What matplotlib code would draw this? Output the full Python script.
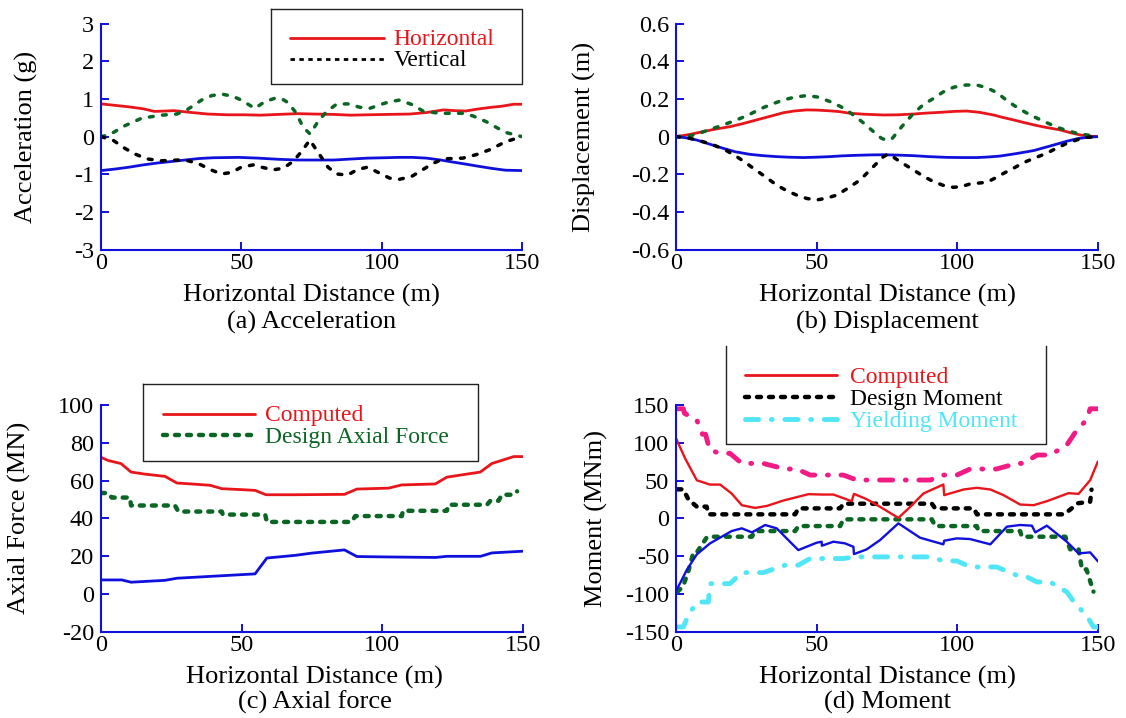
import matplotlib
matplotlib.use("Agg")
import matplotlib.pyplot as plt
from matplotlib.lines import Line2D

plt.rcParams['font.family'] = ['Liberation Serif', 'DejaVu Serif']
plt.rcParams['axes.unicode_minus'] = False

# Colours used in the original
RED = '#E8151B'
BLUE = '#1010DC'
GREEN = '#0B6623'
BLACK = '#000000'
PINK = '#F21A84'
CYAN = '#50E6F8'

W, H = 1126, 718  # figure size in pixels

# ---------------- (a) Acceleration ----------------
acc_h_x = [0, 5, 10, 15, 19, 23, 26, 31, 38, 45, 51, 57, 63, 70, 76, 83, 89, 95, 102, 110, 116, 122, 126, 130, 134, 138, 143, 147, 150]
acc_h_pos = [0.87, 0.83, 0.79, 0.74, 0.67, 0.68, 0.69, 0.65, 0.60, 0.58, 0.58, 0.57, 0.59, 0.61, 0.60, 0.59, 0.57, 0.58, 0.59, 0.60, 0.64, 0.71, 0.69, 0.68, 0.73, 0.77, 0.81, 0.86, 0.86]
acc_h_neg_x = [0, 5, 10, 15, 20, 25, 30, 35, 40, 49, 56, 63, 70, 77, 83, 90, 95, 101, 106, 111, 116, 121, 125, 130, 134, 139, 144, 150]
acc_h_neg = [-0.90, -0.86, -0.81, -0.75, -0.70, -0.66, -0.62, -0.58, -0.56, -0.55, -0.57, -0.60, -0.62, -0.62, -0.62, -0.59, -0.57, -0.56, -0.55, -0.55, -0.57, -0.62, -0.67, -0.73, -0.78, -0.84, -0.89, -0.90]
acc_v_pos_x = [0, 3, 8.5, 14.5, 21.6, 27, 31, 35.8, 39.5, 43, 47, 50, 54.8, 58.4, 62, 64.5, 66.7, 69.6, 72, 74.5, 77.3, 80.3, 83.9, 87.9, 92.2, 95.7, 99.9, 103, 106.4, 111.2, 114.7, 120.6, 128.9, 132.5, 137.2, 141, 144.3, 150]
acc_v_pos = [0.0, 0.05, 0.29, 0.49, 0.57, 0.60, 0.73, 0.97, 1.09, 1.13, 1.07, 0.97, 0.75, 0.93, 1.02, 1.00, 0.90, 0.62, 0.25, 0.07, 0.40, 0.66, 0.86, 0.87, 0.78, 0.75, 0.86, 0.93, 0.97, 0.84, 0.68, 0.62, 0.62, 0.55, 0.40, 0.24, 0.11, 0.0]
acc_v_neg_x = [0, 4.4, 8.5, 12.1, 16.3, 21.6, 27.5, 31, 34.6, 38.8, 42.9, 46.5, 50, 54.2, 57.2, 61.3, 64.9, 68.4, 71.4, 74.4, 77.9, 80.9, 83.9, 87.9, 91.4, 95, 99.3, 102.8, 106.4, 110.6, 114.1, 118.3, 121.9, 128.9, 133.6, 138.4, 144.3, 150]
acc_v_neg = [0.0, -0.10, -0.31, -0.46, -0.59, -0.64, -0.62, -0.64, -0.71, -0.87, -0.99, -0.95, -0.81, -0.75, -0.81, -0.88, -0.84, -0.66, -0.40, -0.09, -0.48, -0.81, -0.99, -1.02, -0.87, -0.81, -0.97, -1.10, -1.13, -1.06, -0.90, -0.71, -0.59, -0.57, -0.48, -0.35, -0.13, 0.0]
acc_ticks = [-3, -2, -1, 0, 1, 2, 3]
acc_ticklabels = ['-3', '-2', '-1', '0', '1', '2', '3']

# ---------------- (b) Displacement ----------------
dis_h_pos_x = [0, 5, 9.7, 14, 19.2, 24, 28.7, 33, 38.2, 42, 46.5, 50, 54.8, 58, 61.9, 67, 73.8, 79, 84.5, 89, 94, 99, 103.4, 108, 112.9, 116, 120, 124, 128.3, 132, 136.6, 140, 143.8, 147, 150]
dis_h_pos = [0, 0.012, 0.027, 0.040, 0.053, 0.070, 0.089, 0.106, 0.127, 0.136, 0.142, 0.141, 0.137, 0.133, 0.124, 0.119, 0.115, 0.116, 0.120, 0.125, 0.129, 0.134, 0.136, 0.129, 0.115, 0.103, 0.089, 0.074, 0.059, 0.048, 0.036, 0.022, 0.009, 0.003, 0]
dis_h_neg_x = [0, 3.5, 7.4, 12, 16.8, 21, 26.3, 31, 35.8, 40, 45.3, 50, 54.8, 59, 64.3, 69, 73.8, 79, 84.5, 90, 96.3, 102, 107, 111, 115.3, 121, 127.2, 133, 139.1, 143, 146.2, 150]
dis_h_neg = [0, -0.006, -0.018, -0.040, -0.062, -0.080, -0.094, -0.101, -0.106, -0.109, -0.111, -0.109, -0.106, -0.102, -0.099, -0.097, -0.096, -0.098, -0.101, -0.106, -0.110, -0.111, -0.111, -0.108, -0.103, -0.090, -0.074, -0.050, -0.024, -0.010, -0.004, 0]
dis_v_pos_x = [0, 5, 9, 13.3, 17.5, 21.6, 25.8, 29.9, 34, 38.2, 42.3, 46.5, 50.5, 54.8, 58.5, 61.9, 66.1, 70.2, 73, 75, 77, 80.3, 84.5, 88, 91.6, 95, 98.7, 103, 107, 110.5, 114.1, 117, 120, 123, 126, 129, 131.9, 135.5, 139.1, 142.6, 146.2, 150]
dis_v_pos = [0, 0.004, 0.022, 0.044, 0.066, 0.089, 0.115, 0.147, 0.172, 0.195, 0.210, 0.218, 0.210, 0.186, 0.160, 0.128, 0.080, 0.027, -0.008, -0.020, -0.008, 0.053, 0.124, 0.170, 0.203, 0.237, 0.262, 0.274, 0.274, 0.260, 0.234, 0.200, 0.168, 0.140, 0.115, 0.094, 0.074, 0.050, 0.032, 0.018, 0.009, 0]
dis_v_neg_x = [0, 5, 9, 13.3, 17.5, 21.6, 24.5, 27.5, 31.5, 35.8, 39.5, 42.9, 46.5, 50, 53.5, 57.2, 61, 65.5, 70.2, 73.8, 75.5, 77, 79.7, 84.5, 88, 91.6, 95, 98.7, 101.5, 104.6, 110.6, 113.5, 116.5, 120, 123.6, 127.8, 131.9, 135.5, 139.1, 142.6, 146.2, 150]
dis_v_neg = [0, -0.009, -0.024, -0.044, -0.070, -0.106, -0.135, -0.168, -0.210, -0.257, -0.288, -0.310, -0.328, -0.336, -0.327, -0.310, -0.275, -0.230, -0.159, -0.106, -0.092, -0.105, -0.133, -0.177, -0.210, -0.239, -0.258, -0.269, -0.265, -0.251, -0.242, -0.220, -0.195, -0.168, -0.138, -0.112, -0.088, -0.060, -0.035, -0.017, -0.004, 0]
dis_ticks = [-0.6, -0.4, -0.2, 0, 0.2, 0.4, 0.6]
dis_ticklabels = ['-0.6', '-0.4', '-0.2', '0', '0.2', '0.4', '0.6']

# ---------------- (c) Axial force ----------------
axf_max_x = [0, 2.6, 7.1, 10.7, 15.7, 22.8, 27, 32.3, 38.8, 43, 50, 54.8, 58.7, 69, 86.6, 91, 102.3, 107, 118.9, 123, 134.9, 139, 146.8, 150]
axf_max = [72.3, 70.6, 69.0, 64.5, 63.4, 62.2, 58.7, 58.2, 57.5, 55.7, 55.2, 54.8, 52.5, 52.5, 52.7, 55.5, 56.0, 57.7, 58.2, 61.8, 64.5, 69.0, 72.7, 72.7]
axf_min_x = [0, 7.4, 10.7, 22.8, 27, 54.8, 59, 69, 75, 86.6, 91, 100, 119, 123, 135, 139, 150]
axf_min = [7.4, 7.4, 6.2, 7.2, 8.3, 10.6, 19.0, 20.4, 21.6, 23.3, 19.8, 19.6, 19.3, 19.9, 19.9, 21.7, 22.6]
axf_design_x = [0, 2.6, 3.8, 10.3, 10.7, 26.3, 27.5, 43, 43.3, 58.4, 59, 89.2, 90.4, 107, 107.4, 123, 123.6, 137.3, 138.5, 141.4, 142.6, 146.8, 148]
axf_design = [53.4, 53.4, 51, 51, 46.8, 46.8, 43.6, 43.6, 42, 42, 38.1, 38.1, 41.2, 41.2, 44, 44, 47.2, 47.2, 49.3, 49.3, 52.5, 52.5, 54.3]
axf_ticks = [-20, 0, 20, 40, 60, 80, 100]
axf_ticklabels = ['-20', '0', '20', '40', '60', '80', '100']

# ---------------- (d) Moment ----------------
mom_max_x = [0, 3.2, 7.4, 12.1, 15.7, 19.8, 23.4, 28.1, 32.3, 38.2, 47.1, 51.8, 56, 62.5, 63.3, 67.8, 72.6, 79.1, 83.3, 88, 95.1, 95.4, 102.3, 107, 111.8, 116.5, 122.4, 127.2, 131.9, 139.6, 143.2, 147.3, 150]
mom_max = [106, 79.6, 50.4, 44.7, 44.7, 32.8, 17.4, 13.8, 16.4, 23.6, 32, 31.5, 31.5, 22.7, 32.4, 25.4, 15.2, 0.6, 15.2, 32.9, 44.8, 30.7, 38.2, 40.4, 38.2, 30.7, 18.3, 17.4, 22.7, 33.3, 32.4, 50.4, 74.7]
mom_min_x = [0, 3.8, 7.4, 12.1, 19.8, 23.4, 27, 31.7, 35.8, 43.5, 50, 51.8, 51.9, 56, 60.1, 63.1, 63.3, 67.8, 72.6, 79.1, 86.8, 95.1, 95.4, 99.9, 104.6, 111.8, 117.7, 122.4, 126.6, 127.8, 131.9, 139, 143.2, 147.3, 150]
mom_min = [-96.4, -68.5, -47.7, -33.1, -16.8, -13.2, -18.6, -8.8, -13.2, -42, -32.3, -30.9, -36.2, -30.9, -33.1, -37.6, -47.3, -41.1, -28.7, -6.6, -25.6, -34.4, -29.6, -26.5, -27.4, -34.4, -11, -8.8, -9.7, -18.6, -9.7, -30.9, -46.4, -45, -56.5]
mom_design_pos_x = [0.5, 2.6, 4.4, 7.4, 10.9, 11.5, 42.4, 43.5, 58.4, 59.5, 91.0, 92.2, 106.0, 107.0, 138.0, 140.0, 143.0, 147.3, 147.6, 147.8]
mom_design_pos = [38.4, 38.4, 25, 15.5, 15.5, 5.3, 5.3, 13.2, 13.2, 19.4, 19.4, 13.2, 13.2, 5.3, 5.3, 11, 20, 22, 30, 38]
mom_design_neg_x = [0.5, 2.5, 4.4, 6.2, 7.4, 10.9, 11.5, 27, 28.1, 42.4, 43.5, 58.4, 59.5, 91, 92.2, 107, 107.6, 122.4, 123, 138.5, 140.2, 143.2, 144.4, 146, 148.5]
mom_design_neg = [-97.3, -90, -70, -45, -45, -25.4, -24.3, -24.3, -16.8, -16.8, -10.2, -10.2, -1.3, -1.3, -10.2, -10.2, -16.8, -16.8, -24.3, -24.3, -41, -41, -67.5, -67.5, -97]
mom_yield_pos_x = [0.5, 2.6, 3.0, 7.4, 9.4, 10.5, 12, 15.7, 19.2, 23.4, 31, 38.8, 43, 47.7, 59.5, 64.3, 90.4, 95.1, 99.9, 104.6, 114, 121.2, 123.6, 128.4, 133.1, 139, 142.6, 146, 147.3, 150]
mom_yield_pos = [145, 145, 139, 130, 111.3, 111.3, 90.4, 86, 86, 72.7, 72.7, 65.3, 65.3, 57.3, 57.3, 50.7, 50.7, 57.3, 57.3, 65.3, 65.3, 72.7, 72.7, 83.8, 83.8, 97, 117, 130, 145, 145]
mom_yield_neg_x = [0.5, 2.6, 4.4, 7.4, 11.5, 12.1, 19.2, 23.4, 31, 38.8, 43.5, 47.7, 59.5, 63.7, 90.4, 95.1, 99.9, 104.6, 114, 121.2, 123.6, 128.4, 133.1, 139, 142, 146, 148.5, 150]
mom_yield_neg = [-143.7, -143.7, -128.4, -110.7, -110.7, -86.4, -86.4, -71.8, -71.8, -62, -62, -53.2, -53.2, -51, -51, -56.3, -56.3, -64.3, -64.3, -75.3, -75.3, -84.2, -84.2, -97.4, -112.9, -128.4, -143.7, -143.7]
mom_ticks = [-150, -100, -50, 0, 50, 100, 150]
mom_ticklabels = ['-150', '-100', '-50', '0', '50', '100', '150']

x_ticks = [0, 50, 100, 150]
x_ticklabels = ['0', '50', '100', '150']

# line styles
solid = dict(lw=2.0, solid_capstyle='round')
thin_dots = dict(lw=2.5, dashes=(1.1, 2.7), dash_capstyle='round')
fat_dots = dict(lw=3.2, dashes=(0.9, 1.8), dash_capstyle='round')
dash_dot = dict(lw=3.5, dashes=(2.7, 2.6, 0.2, 2.6), dash_capstyle='round')


def px(x, y):
    """pixel position -> figure fraction"""
    return x / W, 1 - y / H


def make_axes(fig, left, top, right, bottom):
    x0, y0 = px(left, bottom)
    ax = fig.add_axes([x0, y0, (right - left) / W, (bottom - top) / H])
    for s in ['top', 'right']:
        ax.spines[s].set_visible(False)
    for s in ['left', 'bottom']:
        ax.spines[s].set_color(BLUE)
        ax.spines[s].set_linewidth(1.5)
    ax.tick_params(direction='in', length=6, width=1.4, color=BLUE, labelsize=17.5)
    ax.tick_params(axis='x', pad=2.5)
    ax.tick_params(axis='y', pad=5)
    ax.set_xlim(0, 150)
    ax.set_xticks(x_ticks)
    ax.set_xticklabels(x_ticklabels)
    return ax


def fig_line(fig, xs, ys, **kw):
    pts = [px(x, y) for x, y in zip(xs, ys)]
    fig.add_artist(Line2D([p[0] for p in pts], [p[1] for p in pts],
                          transform=fig.transFigure, **kw))


def draw_legend(fig, box, rows, top_edge=True):
    left, top, right, bottom = box
    if top_edge:
        fig_line(fig, [left, right, right, left, left], [top, top, bottom, bottom, top], color='#222222', lw=1.0)
    else:
        fig_line(fig, [left, left, right, right], [top, bottom, bottom, top], color='#222222', lw=1.0)
    for y, x0, x1, xt, label, tcolor, color, style in rows:
        fig_line(fig, [x0, x1], [y, y], color=color, **style)
        tx, ty = px(xt, y + 7.8)
        fig.text(tx, ty, label, color=tcolor, fontsize=17, va='baseline', ha='left')


def captions(fig, cx, y_label, y_caption, caption):
    x, y = px(cx, y_label)
    fig.text(x, y, 'Horizontal Distance (m)', fontsize=19, ha='center', va='baseline')
    x, y = px(cx, y_caption)
    fig.text(x, y, caption, fontsize=19, ha='center', va='baseline')


fig = plt.figure(figsize=(W / 100, H / 100), dpi=100)

# (a)
ax = make_axes(fig, 101, 23.6, 522, 249.7)
ax.plot(acc_h_x, acc_h_pos, color=RED, **solid)
ax.plot(acc_h_neg_x, acc_h_neg, color=BLUE, **solid)
ax.plot(acc_v_pos_x, acc_v_pos, color=GREEN, **thin_dots)
ax.plot(acc_v_neg_x, acc_v_neg, color=BLACK, **thin_dots)
ax.set_ylim(-3, 3)
ax.set_yticks(acc_ticks)
ax.set_yticklabels(acc_ticklabels)
ax.set_ylabel('Acceleration (g)', fontsize=19)
ax.yaxis.set_label_coords(-0.15, 0.5)
draw_legend(fig, (270.6, 9.3, 521.5, 84), [
    (37.5, 290, 383.5, 393.5, 'Horizontal', RED, RED, solid),
    (58.5, 290, 383.5, 393.5, 'Vertical', BLACK, BLACK, dict(lw=2.0, dashes=(1.6, 1.6))),
])
captions(fig, 311.5, 301.7, 328.5, '(a) Acceleration')

# (b)
ax = make_axes(fig, 676, 23.6, 1097.7, 249.7)
ax.plot(dis_h_pos_x, dis_h_pos, color=RED, **solid)
ax.plot(dis_h_neg_x, dis_h_neg, color=BLUE, **solid)
ax.plot(dis_v_pos_x, dis_v_pos, color=GREEN, **thin_dots)
ax.plot(dis_v_neg_x, dis_v_neg, color=BLACK, **thin_dots)
ax.set_ylim(-0.6, 0.6)
ax.set_yticks(dis_ticks)
ax.set_yticklabels(dis_ticklabels)
ax.set_ylabel('Displacement (m)', fontsize=19)
ax.yaxis.set_label_coords(-0.19, 0.5)
captions(fig, 887, 301.7, 328.5, '(b) Displacement')

# (c)
ax = make_axes(fig, 101, 405, 522.7, 631.7)
ax.plot(axf_max_x, axf_max, color=RED, **solid)
ax.plot(axf_min_x, axf_min, color=BLUE, **solid)
ax.plot(axf_design_x, axf_design, color=GREEN, **fat_dots)
ax.set_ylim(-20, 100)
ax.set_yticks(axf_ticks)
ax.set_yticklabels(axf_ticklabels)
ax.set_ylabel('Axial Force (MN)', fontsize=19)
ax.yaxis.set_label_coords(-0.165, 0.5)
draw_legend(fig, (143.3, 384.3, 478, 460.7), [
    (413.5, 163, 255, 265, 'Computed', RED, RED, solid),
    (435, 163, 255, 265, 'Design Axial Force', GREEN, GREEN, fat_dots),
])
captions(fig, 314.5, 683.3, 708.5, '(c) Axial force')

# (d)
ax = make_axes(fig, 676, 405, 1097.7, 631.7)
ax.plot(mom_yield_pos_x, mom_yield_pos, color=PINK, **dash_dot)
ax.plot(mom_yield_neg_x, mom_yield_neg, color=CYAN, **dash_dot)
ax.plot(mom_design_pos_x, mom_design_pos, color=BLACK, **fat_dots)
ax.plot(mom_design_neg_x, mom_design_neg, color=GREEN, **fat_dots)
ax.plot(mom_max_x, mom_max, color=RED, lw=1.7)
ax.plot(mom_min_x, mom_min, color=BLUE, lw=1.7)
ax.set_ylim(-150, 150)
ax.set_yticks(mom_ticks)
ax.set_yticklabels(mom_ticklabels)
ax.set_ylabel('Moment (MNm)', fontsize=19)
ax.yaxis.set_label_coords(-0.162, 0.5)
draw_legend(fig, (726, 346, 1046, 444.3), [
    (375, 745, 837, 850, 'Computed', RED, RED, solid),
    (397, 745, 837, 850, 'Design Moment', BLACK, BLACK, fat_dots),
    (419, 745, 837, 850, 'Yielding Moment', CYAN, CYAN, dash_dot),
], top_edge=False)
captions(fig, 887, 683.3, 708.5, '(d) Moment')

fig.savefig('out.png', dpi=100)
